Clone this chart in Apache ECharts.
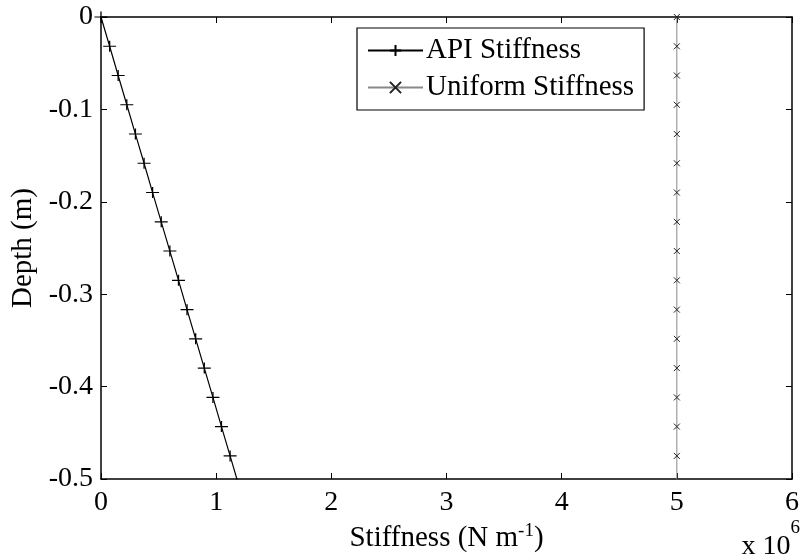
<!DOCTYPE html>
<html>
<head>
<meta charset="utf-8">
<script src="https://cdn.jsdelivr.net/npm/echarts@6/dist/echarts.min.js"></script>
<style>
html,body{margin:0;padding:0;background:#fff;}
#chart{width:802px;height:558px;}
</style>
</head>
<body>
<div id="chart"></div>
<script>
// Depth (m)
var depth = [0, -0.0317, -0.0633, -0.095, -0.1267, -0.1583, -0.19, -0.2217, -0.2533, -0.285, -0.3167, -0.3483, -0.38, -0.4117, -0.4433, -0.475, -0.5067];
// API stiffness (N/m)
var apiStiffness = [0, 0.075e6, 0.149e6, 0.224e6, 0.299e6, 0.374e6, 0.448e6, 0.523e6, 0.598e6, 0.673e6, 0.747e6, 0.822e6, 0.897e6, 0.972e6, 1.046e6, 1.121e6, 1.196e6];
// Uniform stiffness (N/m)
var uniformStiffness = [5e6, 5e6, 5e6, 5e6, 5e6, 5e6, 5e6, 5e6, 5e6, 5e6, 5e6, 5e6, 5e6, 5e6, 5e6, 5e6, 5e6];
var seriesNames = ['API Stiffness', 'Uniform Stiffness'];
var xTickLabels = ['0', '1', '2', '3', '4', '5', '6'];

function pairs(xs, ys) {
  var out = [];
  for (var i = 0; i < xs.length; i++) out.push([xs[i], ys[i]]);
  return out;
}

var FONT = 'Liberation Serif';
var plusPath = 'path://M0,5 L10,5 M5,0 L5,10';
var crossPath = 'path://M0,0 L10,10 M10,0 L0,10';

var chart = echarts.init(document.getElementById('chart'));
var axisLineStyle = {color: '#000', width: 1.5};
var option = {
  animation: false,
  backgroundColor: '#fff',
  grid: {left: 101, right: 7, top: 17, bottom: 79, containLabel: false},
  legend: {
    orient: 'vertical',
    left: 357, top: 28,
    padding: [8, 10, 8, 10],
    itemWidth: 55, itemHeight: 14, itemGap: 8,
    borderColor: '#000', borderWidth: 1.2,
    backgroundColor: '#fff',
    textStyle: {fontFamily: FONT, fontSize: 29, color: '#000', padding: [0, 0, 0, -2]},
    data: seriesNames
  },
  xAxis: [{
    type: 'value', position: 'bottom', min: 0, max: 6e6, interval: 1e6,
    name: '{a|Stiffness (N m}{s|-1}{a|)}',
    nameLocation: 'middle', nameGap: 37,
    nameTextStyle: {rich: {
      a: {fontFamily: FONT, fontSize: 29, color: '#000'},
      s: {fontFamily: FONT, fontSize: 19, color: '#000', verticalAlign: 'top', padding: [0, 0, 14, 0]}
    }},
    axisLine: {show: true, onZero: false, lineStyle: axisLineStyle},
    axisTick: {show: true, inside: true, length: 6, lineStyle: {color: '#000'}},
    axisLabel: {fontFamily: FONT, fontSize: 28, color: '#000', margin: 10,
      formatter: function (v) { return xTickLabels[Math.round(v / 1e6)]; }},
    splitLine: {show: false}
  }, {
    type: 'value', position: 'top', min: 0, max: 6e6, interval: 1e6,
    axisLine: {show: true, onZero: false, lineStyle: axisLineStyle},
    axisTick: {show: true, inside: true, length: 6, lineStyle: {color: '#000'}},
    axisLabel: {show: false}, splitLine: {show: false}
  }],
  yAxis: [{
    type: 'value', position: 'left', min: -0.5, max: 0, interval: 0.1,
    name: 'Depth (m)', nameLocation: 'middle', nameGap: 63,
    nameTextStyle: {fontFamily: FONT, fontSize: 29, color: '#000'},
    axisLine: {show: true, onZero: false, lineStyle: axisLineStyle},
    axisTick: {show: true, inside: true, length: 6, lineStyle: {color: '#000'}},
    axisLabel: {fontFamily: FONT, fontSize: 28, color: '#000', margin: 8},
    splitLine: {show: false}
  }, {
    type: 'value', position: 'right', min: -0.5, max: 0, interval: 0.1,
    axisLine: {show: true, onZero: false, lineStyle: axisLineStyle},
    axisTick: {show: true, inside: true, length: 6, lineStyle: {color: '#000'}},
    axisLabel: {show: false}, splitLine: {show: false}
  }],
  series: [{
    name: seriesNames[0], type: 'line', xAxisIndex: 0, yAxisIndex: 0,
    data: pairs(apiStiffness, depth),
    clip: true,
    symbol: plusPath, symbolSize: [13, 11], showAllSymbol: true,
    lineStyle: {color: '#000', width: 1.2},
    itemStyle: {color: 'none', borderColor: '#000', borderWidth: 1.2},
    z: 3
  }, {
    name: seriesNames[1], type: 'line', xAxisIndex: 0, yAxisIndex: 0,
    data: pairs(uniformStiffness, depth),
    clip: true,
    symbol: crossPath, symbolSize: 6, showAllSymbol: true,
    lineStyle: {color: '#888', width: 1},
    itemStyle: {color: 'none', borderColor: '#222', borderWidth: 1},
    z: 2
  }],
  graphic: [{
    type: 'text', right: 2, top: 519,
    style: {
      text: '{a|x 10}{s|6}',
      rich: {
        a: {fontFamily: FONT, fontSize: 28, fill: '#000', padding: [14, 0, 0, 0]},
        s: {fontFamily: FONT, fontSize: 19, fill: '#000', verticalAlign: 'top'}
      }
    }
  }]
};
chart.setOption(option);
</script>
</body>
</html>
